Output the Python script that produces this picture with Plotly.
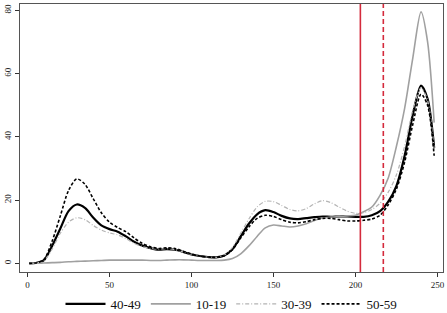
import plotly.graph_objects as go

x = [1, 5, 10, 15, 20, 25, 30, 35, 40, 45, 50, 55, 60, 65, 70, 75, 80, 85, 90, 95,
     100, 105, 110, 115, 120, 125, 130, 135, 140, 145, 150, 155, 160, 165, 170, 175,
     180, 185, 190, 195, 200, 205, 210, 215, 220, 225, 230, 235, 240, 244, 248]

age_40_49 = [0, 0.1, 1.0, 5.5, 11, 16.5, 18.6, 17.5, 14.5, 12, 10.8, 10.0, 8.5, 6.8, 5.6, 4.8,
             4.3, 4.5, 4.3, 3.6, 2.8, 2.3, 2.0, 1.9, 2.5, 4.5, 8.5, 12.5, 15.5, 16.8, 16.2,
             15.0, 14.2, 14.0, 14.3, 14.6, 14.8, 14.7, 14.8, 14.8, 14.7, 14.7, 15.2, 16.5,
             19.5, 24.5, 34, 47, 56.2, 52, 36.5]
age_10_19 = [0, 0, 0.1, 0.2, 0.3, 0.5, 0.6, 0.7, 0.8, 0.9, 1.0, 1.0, 1.0, 1.0, 1.0, 0.9,
             0.9, 1.0, 1.1, 1.1, 1.0, 0.9, 0.9, 0.9, 1.0, 1.5, 3, 5.5, 8.5, 11.2, 12.1,
             11.8, 11.5, 11.8, 12.5, 13.5, 14.3, 14.6, 14.8, 15.0, 15.2, 16.3, 17.8, 21.5,
             27, 37, 49, 65, 79.5, 70, 44.5]
age_30_39 = [0, 0.1, 0.8, 4.5, 9.5, 13, 14.4, 13.8, 12, 10.5, 9.6, 9.0, 7.8, 6.3, 5.3, 4.7,
             4.5, 4.6, 4.3, 3.6, 2.8, 2.3, 2.0, 1.9, 2.6, 5.0, 9.5, 14, 17.8, 19.6, 19.5,
             18.3, 17.0, 16.6, 17.3, 18.8, 19.8, 19.2, 17.8, 16.5, 15.8, 16.0, 17.0, 19,
             22.5, 28, 37, 48.5, 55.5, 51.5, 36]
age_50_59 = [0, 0.1, 1.2, 7, 15, 23, 26.7, 25, 20.5, 16, 13, 11.3, 10, 8, 6.3, 5.2,
             4.7, 4.9, 4.7, 3.8, 2.9, 2.3, 2.0, 1.9, 2.4, 4.3, 8, 11.5, 14.2, 15.2, 14.8,
             13.8, 13.0, 12.8, 13.2, 13.8, 14.2, 14.2, 13.8, 13.4, 13.4, 13.6, 14.0, 15.2,
             18.5, 23.5, 32, 44, 53.5, 50, 34]

vlines = [203, 217]

fig = go.Figure()
fig.add_trace(go.Scatter(x=x, y=age_40_49, name="40-49", mode="lines",
                         line=dict(color="black", width=2.2, shape="spline", smoothing=0.8)))
fig.add_trace(go.Scatter(x=x, y=age_10_19, name="10-19", mode="lines",
                         line=dict(color="#a0a0a0", width=1.6, shape="spline", smoothing=0.8)))
fig.add_trace(go.Scatter(x=x, y=age_30_39, name="30-39", mode="lines",
                         line=dict(color="#b4b4b4", width=1.2, dash="4px,2px,1px,2px",
                                   shape="spline", smoothing=0.8)))
fig.add_trace(go.Scatter(x=x, y=age_50_59, name="50-59", mode="lines",
                         line=dict(color="black", width=1.6, dash="3px,2px",
                                   shape="spline", smoothing=0.8)))

fig.add_vline(x=vlines[0], line=dict(color="#d42a3c", width=1.6))
fig.add_vline(x=vlines[1], line=dict(color="#d42a3c", width=1.6, dash="5px,3px"))

axis_style = dict(showline=True, mirror=True, linecolor="#555", linewidth=1.2,
                  showgrid=False, zeroline=False, ticks="outside", ticklen=4,
                  tickcolor="#333", automargin=False,
                  tickfont=dict(family="Liberation Serif", size=9, color="#222"))

fig.update_xaxes(range=[-4.6, 253.4], tickvals=[0, 50, 100, 150, 200, 250], **axis_style)
fig.update_yaxes(range=[-2.75, 82], tickvals=[0, 20, 40, 60, 80], tickangle=-90, **axis_style)

fig.update_layout(
    width=447, height=313,
    margin=dict(l=20, r=4, t=4, b=41, autoexpand=False),
    plot_bgcolor="white", paper_bgcolor="white",
    font=dict(family="Liberation Serif"),
    legend=dict(orientation="h", x=0.5, xanchor="center", y=-0.119, yanchor="middle",
                bgcolor="rgba(0,0,0,0)", font=dict(family="Liberation Serif", size=13, color="#111"),
                itemwidth=40),
)

# page has an 8px body margin by default; drop it so the figure sits at the corner
fig.write_html("out.html", config={"displayModeBar": False},
               post_script="document.body.style.margin = '0';")
